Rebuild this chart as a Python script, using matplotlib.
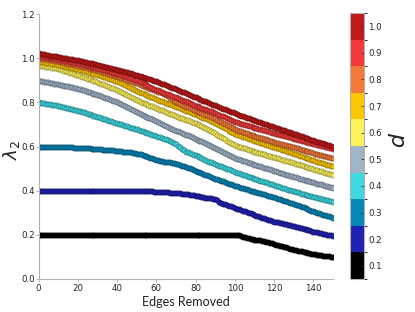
import numpy as np
import matplotlib
matplotlib.use("Agg")
import matplotlib.pyplot as plt
from matplotlib.colors import ListedColormap, BoundaryNorm, to_rgb
from matplotlib.cm import ScalarMappable

# ---------------- data ----------------
edges = np.arange(151)

p_values = [0.1, 0.2, 0.3, 0.4, 0.5, 0.6, 0.7, 0.8, 0.9, 1.0]
p_labels = ["0.1", "0.2", "0.3", "0.4", "0.5", "0.6", "0.7", "0.8", "0.9", "1.0"]
p_colors = ["#000000", "#2121b5", "#0786b9", "#3ed8e0", "#a0b4c8",
            "#fdf25a", "#fcc600", "#f47a3a", "#f23a3a", "#bf1818"]

lam_p01 = [
    .2, .2, .2, .2, .2, .2, .2, .2, .2, .2, .2,
    .2, .2, .2, .2, .2, .2, .2, .2, .2, .2,
    .2, .2, .2, .2, .2, .2, .2, .2, .2, .2,
    .2, .2, .2, .2, .2, .2, .2, .2, .2, .2,
    .2, .2, .2, .2, .2, .2, .2, .2, .2, .2,
    .2, .2, .2, .2, .2, .2, .2, .2, .2, .2,
    .2, .2, .2, .2, .2, .2, .2, .2, .2, .2,
    .2, .2, .2, .2, .2, .2, .2, .2, .2, .2,
    .2, .2, .2, .2, .2, .2, .2, .2, .2, .2,
    .2, .2, .2, .2, .2, .2, .2, .2, .2, .2,
    .199, .197, .195, .192, .19, .187, .185, .182, .18, .178,
    .177, .176, .175, .173, .172, .169, .166, .163, .161, .158,
    .155, .152, .15, .148, .145, .143, .14, .138, .135, .133,
    .131, .129, .127, .126, .124, .122, .119, .117, .115, .113,
    .112, .11, .109, .107, .106, .105, .104, .102, .101, .1]

lam_p02 = [
    .4, .4, .4, .4, .4, .4, .4, .4, .4, .4, .4,
    .4, .4, .4, .4, .4, .4, .4, .4, .4, .4,
    .4, .4, .4, .4, .4, .4, .4, .4, .4, .4,
    .4, .4, .4, .4, .4, .4, .4, .4, .4, .4,
    .4, .4, .4, .4, .4, .4, .4, .4, .4, .4,
    .4, .4, .4, .4, .4, .399, .398, .397, .396, .395,
    .394, .394, .393, .393, .392, .392, .391, .391, .39, .39,
    .389, .388, .386, .385, .384, .383, .382, .381, .38, .378,
    .376, .374, .372, .37, .369, .367, .366, .365, .364, .362,
    .358, .35, .344, .341, .338, .335, .332, .329, .326, .322,
    .319, .316, .313, .31, .307, .304, .3, .297, .294, .29,
    .287, .284, .281, .278, .275, .272, .269, .266, .263, .26,
    .258, .256, .254, .252, .25, .248, .246, .244, .242, .24,
    .237, .235, .232, .23, .227, .225, .222, .22, .218, .215,
    .213, .211, .209, .207, .205, .203, .201, .199, .197, .195]

lam_p03 = [
    .6, .6, .6, .6, .599, .599, .599, .599, .598, .598, .598,
    .598, .597, .597, .597, .596, .596, .596, .595, .595, .595,
    .594, .594, .593, .593, .592, .591, .59, .59, .589, .588,
    .587, .587, .586, .585, .584, .584, .583, .582, .581, .58,
    .579, .578, .577, .576, .575, .574, .573, .571, .57, .568,
    .566, .564, .562, .559, .556, .552, .549, .546, .543, .54,
    .538, .536, .534, .532, .531, .529, .528, .526, .524, .522,
    .519, .516, .513, .51, .507, .504, .501, .498, .494, .49,
    .486, .483, .479, .476, .472, .469, .465, .462, .458, .455,
    .452, .448, .445, .442, .438, .435, .432, .429, .425, .422,
    .419, .417, .414, .411, .408, .406, .403, .4, .398, .395,
    .393, .39, .388, .385, .383, .38, .378, .375, .373, .37,
    .367, .364, .361, .358, .355, .352, .349, .346, .343, .34,
    .337, .334, .33, .327, .324, .32, .317, .314, .31, .307,
    .304, .301, .298, .295, .292, .289, .286, .284, .281, .278]

lam_p04 = [
    .8, .799, .797, .796, .794, .793, .791, .79, .788, .787, .785,
    .783, .781, .778, .776, .774, .771, .769, .767, .764, .762,
    .759, .756, .754, .751, .748, .746, .743, .74, .738, .735,
    .732, .729, .726, .723, .72, .717, .714, .711, .708, .705,
    .702, .7, .697, .694, .691, .689, .686, .683, .681, .678,
    .675, .672, .669, .666, .663, .66, .657, .654, .651, .648,
    .645, .642, .638, .635, .632, .629, .625, .621, .616, .61,
    .603, .596, .589, .582, .576, .573, .569, .566, .563, .56,
    .556, .552, .548, .544, .54, .536, .532, .528, .524, .52,
    .517, .513, .51, .506, .503, .499, .496, .492, .489, .485,
    .482, .479, .476, .473, .47, .467, .464, .461, .458, .455,
    .452, .449, .446, .443, .44, .437, .434, .431, .428, .425,
    .422, .419, .417, .414, .411, .408, .405, .403, .4, .397,
    .395, .392, .39, .387, .385, .382, .38, .377, .375, .372,
    .37, .368, .365, .363, .361, .359, .357, .355, .352, .35]

lam_p05 = [
    .898, .896, .895, .893, .892, .89, .888, .887, .885, .884, .882,
    .88, .878, .876, .874, .872, .87, .868, .866, .864, .862,
    .859, .857, .854, .851, .849, .846, .843, .84, .838, .835,
    .832, .828, .825, .821, .818, .814, .811, .807, .804, .8,
    .796, .791, .787, .782, .778, .773, .769, .764, .76, .755,
    .751, .747, .743, .739, .735, .731, .727, .723, .719, .715,
    .711, .706, .702, .698, .694, .689, .685, .681, .676, .672,
    .668, .665, .661, .657, .654, .65, .646, .642, .639, .635,
    .631, .627, .623, .619, .615, .611, .607, .603, .599, .595,
    .59, .586, .581, .576, .572, .567, .562, .557, .553, .548,
    .545, .542, .539, .536, .533, .53, .527, .524, .521, .518,
    .515, .512, .51, .507, .504, .501, .498, .496, .493, .49,
    .487, .484, .482, .479, .476, .473, .47, .468, .465, .462,
    .46, .457, .455, .452, .45, .447, .445, .442, .44, .437,
    .435, .432, .43, .428, .425, .423, .42, .418, .415, .413]

lam_p06 = [
    .968, .966, .965, .963, .962, .96, .958, .957, .955, .954, .952,
    .949, .946, .943, .94, .937, .934, .931, .928, .925, .922,
    .919, .916, .913, .91, .907, .904, .901, .898, .895, .892,
    .888, .885, .881, .878, .874, .87, .867, .863, .86, .856,
    .851, .847, .842, .838, .833, .828, .824, .819, .815, .81,
    .806, .803, .799, .796, .792, .789, .785, .782, .778, .775,
    .771, .767, .764, .76, .756, .753, .749, .745, .742, .738,
    .735, .731, .728, .725, .722, .718, .715, .712, .708, .705,
    .7, .696, .691, .687, .682, .678, .673, .669, .664, .66,
    .654, .649, .643, .638, .632, .627, .621, .616, .61, .605,
    .602, .599, .597, .594, .591, .588, .585, .583, .58, .577,
    .574, .572, .569, .566, .564, .561, .559, .556, .554, .551,
    .548, .546, .543, .541, .538, .535, .533, .53, .528, .525,
    .522, .52, .517, .514, .512, .509, .506, .504, .501, .498,
    .495, .493, .49, .488, .485, .482, .48, .477, .475, .472]

lam_p07 = [
    .986, .984, .983, .981, .98, .978, .976, .975, .973, .972, .97,
    .968, .966, .964, .962, .96, .958, .956, .954, .952, .95,
    .948, .945, .943, .94, .938, .935, .933, .93, .928, .925,
    .922, .919, .916, .913, .91, .907, .904, .901, .898, .895,
    .891, .886, .882, .878, .874, .869, .865, .861, .856, .852,
    .848, .844, .841, .837, .833, .83, .826, .822, .819, .815,
    .812, .808, .805, .801, .798, .794, .791, .787, .784, .78,
    .777, .773, .77, .766, .763, .759, .756, .752, .749, .745,
    .741, .738, .734, .73, .727, .723, .719, .716, .712, .708,
    .703, .698, .693, .688, .683, .677, .672, .667, .662, .657,
    .654, .651, .648, .645, .642, .639, .636, .633, .63, .627,
    .624, .621, .618, .615, .612, .609, .606, .603, .6, .597,
    .594, .591, .588, .585, .582, .579, .576, .573, .57, .567,
    .564, .561, .558, .555, .552, .55, .547, .544, .541, .538,
    .535, .532, .529, .527, .524, .521, .518, .516, .513, .51]

lam_p08 = [
    1.0, .999, .997, .996, .994, .993, .991, .99, .988, .987, .985,
    .983, .981, .979, .977, .975, .974, .972, .97, .968, .966,
    .964, .962, .96, .958, .956, .953, .951, .949, .947, .945,
    .942, .939, .937, .934, .931, .928, .925, .923, .92, .917,
    .914, .911, .908, .905, .902, .898, .895, .892, .889, .886,
    .883, .879, .876, .873, .869, .866, .862, .859, .855, .852,
    .849, .845, .842, .838, .835, .828, .821, .814, .807, .8,
    .796, .792, .789, .785, .781, .777, .773, .77, .766, .762,
    .758, .755, .751, .748, .744, .741, .737, .734, .73, .727,
    .722, .717, .712, .707, .702, .698, .693, .688, .683, .678,
    .675, .672, .669, .666, .663, .66, .657, .654, .651, .648,
    .645, .643, .64, .637, .635, .632, .629, .626, .624, .621,
    .618, .616, .613, .611, .608, .606, .603, .601, .598, .596,
    .593, .591, .588, .586, .583, .581, .578, .576, .573, .571,
    .568, .566, .563, .561, .558, .556, .553, .551, .548, .546]

lam_p09 = [
    1.01, 1.009, 1.007, 1.006, 1.004, 1.003, 1.001, 1.0, .998, .997, .995,
    .993, .991, .989, .987, .986, .984, .982, .98, .978, .976,
    .974, .972, .97, .968, .966, .963, .961, .959, .957, .955,
    .953, .95, .948, .945, .943, .94, .938, .935, .933, .93,
    .927, .924, .921, .918, .915, .912, .909, .906, .903, .9,
    .896, .892, .887, .883, .879, .875, .871, .866, .862, .858,
    .854, .851, .847, .844, .84, .836, .833, .829, .826, .822,
    .818, .815, .811, .807, .804, .8, .796, .792, .789, .785,
    .782, .778, .775, .772, .769, .765, .762, .759, .755, .752,
    .748, .744, .74, .736, .732, .728, .724, .72, .716, .712,
    .709, .707, .704, .702, .699, .696, .694, .691, .689, .686,
    .683, .681, .678, .676, .673, .67, .668, .665, .663, .66,
    .658, .655, .653, .65, .648, .646, .643, .641, .638, .636,
    .634, .631, .629, .626, .624, .622, .619, .617, .614, .612,
    .61, .608, .605, .603, .601, .599, .597, .594, .592, .59]

lam_p10 = [
    1.022, 1.02, 1.019, 1.017, 1.016, 1.014, 1.012, 1.011, 1.009, 1.008, 1.006,
    1.004, 1.003, 1.001, 1.0, .998, .996, .995, .993, .992, .99,
    .988, .986, .984, .982, .98, .978, .976, .974, .972, .97,
    .968, .966, .963, .961, .959, .957, .955, .952, .95, .948,
    .946, .943, .941, .938, .936, .934, .931, .929, .926, .924,
    .921, .918, .915, .912, .909, .907, .904, .901, .898, .895,
    .892, .888, .885, .881, .878, .874, .871, .867, .864, .86,
    .856, .852, .849, .845, .841, .837, .833, .83, .826, .822,
    .818, .815, .811, .808, .804, .801, .797, .794, .79, .787,
    .783, .779, .776, .772, .768, .765, .761, .757, .754, .75,
    .747, .744, .74, .737, .734, .731, .728, .724, .721, .718,
    .715, .712, .709, .706, .703, .7, .697, .694, .691, .688,
    .685, .682, .679, .676, .673, .67, .667, .664, .661, .658,
    .655, .652, .649, .646, .643, .64, .637, .634, .631, .628,
    .625, .622, .619, .617, .614, .611, .608, .606, .603, .6]

series = [lam_p01, lam_p02, lam_p03, lam_p04, lam_p05,
          lam_p06, lam_p07, lam_p08, lam_p09, lam_p10]

x_ticks = [0, 20, 40, 60, 80, 100, 120, 140]
y_ticks = [0.0, 0.2, 0.4, 0.6, 0.8, 1.0, 1.2]

# ---------------- figure ----------------
W, H = 415, 312
fig = plt.figure(figsize=(W / 100, H / 100), dpi=100)
ax = fig.add_axes([38.5 / W, 33 / H, 294.5 / W, 265 / H])

spine_col = "#b0b0b0"
for s in ["top", "right"]:
    ax.spines[s].set_visible(False)
for s in ["left", "bottom"]:
    ax.spines[s].set_color(spine_col)
    ax.spines[s].set_linewidth(0.8)

def darker(c, f=0.55):
    r, g, b = to_rgb(c)
    return (r * f, g * f, b * f)

for ys, col in zip(series, p_colors):
    ax.plot(edges, ys, linestyle="none", marker="o", markersize=3.7,
            markerfacecolor=col, markeredgecolor=darker(col), markeredgewidth=0.5)

ax.set_xlim(0, 150)
ax.set_ylim(0, 1.2)
ax.set_xticks(x_ticks)
ax.set_xticklabels([str(v) for v in x_ticks])
ax.set_yticks(y_ticks)
ax.set_yticklabels([f"{v:.1f}" for v in y_ticks])
ax.tick_params(direction="out", length=2, width=0.6, color=spine_col,
               labelsize=6.2, labelcolor="#222222", pad=1.5)
ax.tick_params(axis="y", pad=0.8)

ax.set_xlabel("Edges Removed", fontfamily="Lato", fontsize=9, color="#222222", labelpad=2)
fig.text(11 / W, 1 - 150 / H, r"$\lambda_2$", fontsize=13, rotation=90,
         ha="center", va="center", color="#222222")

# ---------------- colorbar ----------------
cmap = ListedColormap(p_colors)
bounds = [0.05, 0.15, 0.25, 0.35, 0.45, 0.55, 0.65, 0.75, 0.85, 0.95, 1.05]
norm = BoundaryNorm(bounds, cmap.N)
cax = fig.add_axes([350 / W, 33 / H, 14 / W, 266 / H])
cb = fig.colorbar(ScalarMappable(norm=norm, cmap=cmap), cax=cax, ticks=p_values)
cb.ax.set_yticklabels(p_labels)
cb.outline.set_edgecolor(spine_col)
cb.outline.set_linewidth(0.8)
cb.ax.tick_params(direction="in", length=2, width=0.6, color="#333333",
                  labelsize=6.2, labelcolor="#222222", pad=3)
fig.text(395 / W, 1 - 140 / H, r"$p$", fontsize=16, rotation=270,
         ha="center", va="center", color="#222222")

fig.savefig("out.png", dpi=100)
